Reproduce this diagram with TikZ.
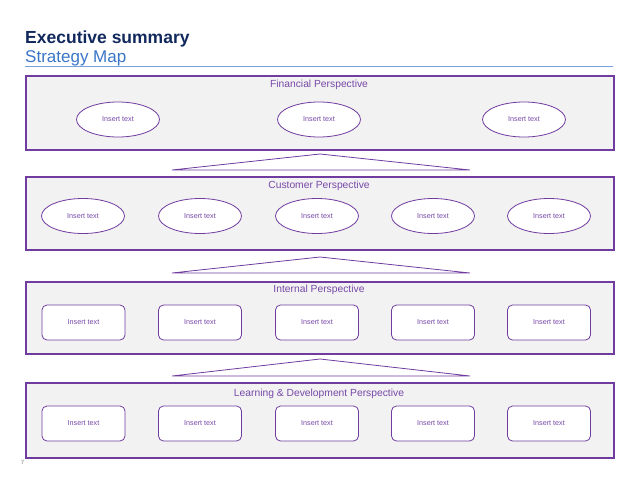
\documentclass[tikz,border=0pt]{standalone}
\usepackage{fontspec}
\setmainfont{Liberation Sans}
\usetikzlibrary{shapes.geometric}
\definecolor{navy}{RGB}{16,40,92}
\definecolor{subblue}{RGB}{58,118,200}
\definecolor{lineblue}{RGB}{120,160,220}
\definecolor{pborder}{RGB}{112,60,160}
\definecolor{ptext}{RGB}{120,72,168}
\definecolor{pfill}{RGB}{242,242,242}
\tikzset{
  panel/.style={draw=pborder, line width=1.6pt, fill=pfill, anchor=north west, inner sep=0pt},
  ptitle/.style={text=ptext, font=\fontsize{10.3}{12}\selectfont, inner sep=0pt},
  oval/.style={ellipse, draw=pborder, line width=0.8pt, fill=white, minimum width=83pt, minimum height=35pt, inner sep=0pt, text=ptext, font=\fontsize{7.2}{8}\selectfont},
  rbox/.style={rectangle, rounded corners=5pt, draw=pborder, line width=0.8pt, fill=white, minimum width=83pt, minimum height=35pt, inner sep=0pt, text=ptext, font=\fontsize{7.2}{8}\selectfont},
  wedge/.style={draw=pborder, line width=0.8pt, fill=white}
}
\begin{document}
\begin{tikzpicture}[x=1pt,y=-1pt]
\useasboundingbox (0,0) rectangle (638,479);
% titles
\node[anchor=base west, inner sep=0pt, text=navy, font=\fontsize{17.5}{20}\selectfont\bfseries] (title) at (25,43) {Executive summary};
\node[anchor=base west, inner sep=0pt, text=subblue, font=\fontsize{17}{20}\selectfont] (sub) at (25,62) {Strategy Map};
\coordinate (la) at (25,66.5);
\coordinate (lb) at (613,66.5);
\draw[lineblue, line width=1.2pt] (la) -- (lb);
% panels
\node[panel, minimum width=588pt, minimum height=74pt] (fin) at (25,75) {};
\node[panel, minimum width=588pt, minimum height=73pt] (cus) at (25,176) {};
\node[panel, minimum width=588pt, minimum height=72pt] (int) at (25,281) {};
\node[panel, minimum width=588pt, minimum height=75pt] (lrn) at (25,382) {};
\node[ptitle] (fint) at (319,85) {Financial Perspective};
\node[ptitle] (cust) at (319,185.5) {Customer Perspective};
\node[ptitle] (intt) at (319,289.5) {Internal Perspective};
\node[ptitle] (lrnt) at (319,393.5) {Learning \& Development Perspective};
% wedges
\draw[wedge] (172,170) -- (320,154) -- (470,170) -- cycle;
\draw[wedge] (172,273) -- (320,257) -- (470,273) -- cycle;
\draw[wedge] (172,376) -- (320,359) -- (470,376) -- cycle;
% financial
\node[oval] (f1) at (118,119.5) {Insert text};
\node[oval] (f2) at (319,119.5) {Insert text};
\node[oval] (f3) at (524,119.5) {Insert text};
% customer
\node[oval] (c1) at (83,216) {Insert text};
\node[oval] (c2) at (200,216) {Insert text};
\node[oval] (c3) at (317,216) {Insert text};
\node[oval] (c4) at (433,216) {Insert text};
\node[oval] (c5) at (549,216) {Insert text};
% internal
\node[rbox] (i1) at (83.5,322.5) {Insert text};
\node[rbox] (i2) at (200,322.5) {Insert text};
\node[rbox] (i3) at (317,322.5) {Insert text};
\node[rbox] (i4) at (433,322.5) {Insert text};
\node[rbox] (i5) at (549,322.5) {Insert text};
% learning
\node[rbox] (l1) at (83.5,423.5) {Insert text};
\node[rbox] (l2) at (200,423.5) {Insert text};
\node[rbox] (l3) at (317,423.5) {Insert text};
\node[rbox] (l4) at (433,423.5) {Insert text};
\node[rbox] (l5) at (549,423.5) {Insert text};
% page number
\node[text=gray, font=\fontsize{6}{7}\selectfont, inner sep=0pt] (pg) at (22.5,462) {7};
\end{tikzpicture}
\end{document}
